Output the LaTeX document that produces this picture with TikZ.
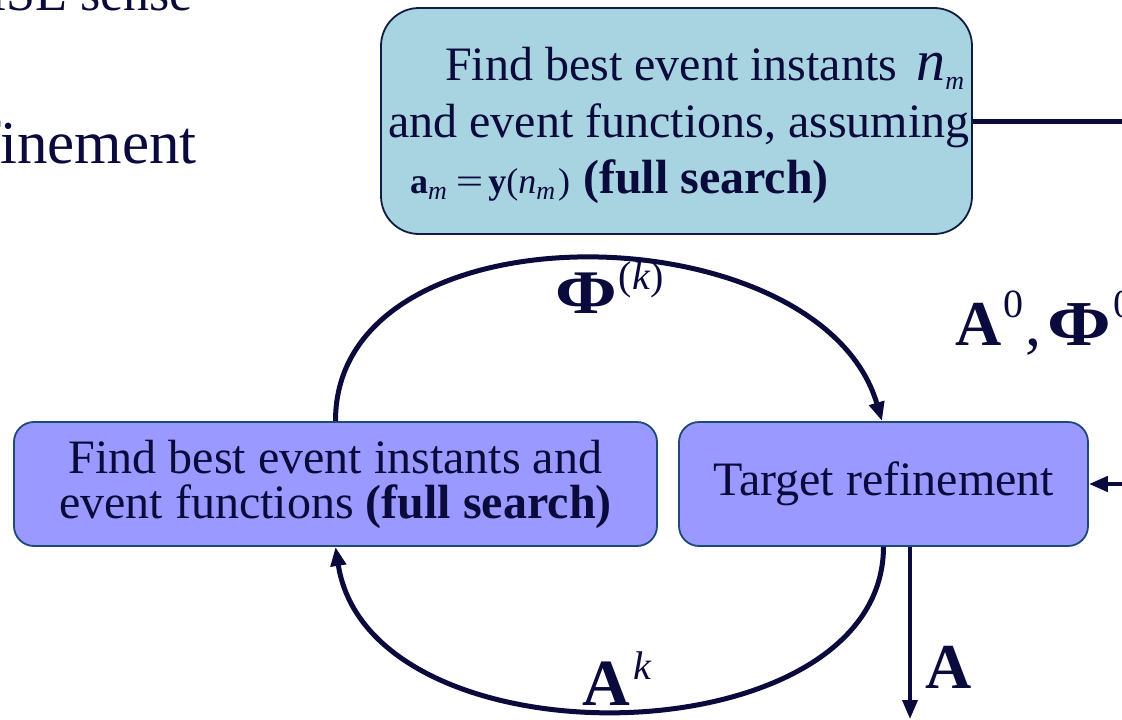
\documentclass[tikz,border=0pt]{standalone}
\usepackage{fontspec}
\setmainfont{Liberation Serif}
\usetikzlibrary{arrows.meta}

\definecolor{ink}{HTML}{0A0A3C}
\definecolor{topfill}{HTML}{A8D3E0}
\definecolor{boxfill}{HTML}{9999FF}
\definecolor{boxline}{HTML}{1F4A78}
\definecolor{topline}{HTML}{101C44}

\newcommand{\fs}[1]{\fontsize{#1}{#1}\selectfont}
\newcommand{\supr}[2]{\raisebox{#1}{\fs{40}#2}}
\newcommand{\sub}[2]{\raisebox{#1}{\fs{26}\textit{#2}}}
\newcommand{\bPhi}{\scalebox{1.2}[1]{\textbf{Φ}}}

\tikzset{
  stagebox/.style={draw=boxline, line width=1.8pt, fill=boxfill, rounded corners=20pt,
    inner sep=0pt, text=ink, align=center},
  topbox/.style={draw=topline, line width=1.8pt, fill=topfill, rounded corners=38pt,
    inner sep=0pt},
  txt/.style={text=ink, inner sep=0pt},
  flow/.style={draw=ink, line width=5pt},
  tip/.style={-{Triangle[length=19pt,width=15pt]}},
}

\begin{document}
\begin{tikzpicture}[x=1pt,y=-1pt]
\clip (0,0) rectangle (1122,720);
\fill[white] (0,0) rectangle (1122,720);

% slide text running in from the left
\node[txt, anchor=base east, font=\fs{52}] (sense) at (193,10) {MMSE sense};
\node[txt, anchor=base east, font=\fs{61}] (refine) at (197,163) {refinement};

% initial full search block
\node[topbox, minimum width=591pt, minimum height=226pt] (top) at (676.5,121) {};
\node[txt, anchor=base west, font=\fs{48}] (l1) at (445,80)
  {Find best event instants\hspace{0.4em}{\fs{58}\textit{n}}\sub{-9pt}{m}};
\node[txt, anchor=base west, font=\fs{48}] (l2) at (388,137)
  {and event functions, assuming};
\node[txt, anchor=base west] (l3) at (410,193)
  {{\fs{36}\textbf{a}\sub{-6pt}{m}\hspace{9pt}\scalebox{1.35}[1]{=}\hspace{5pt}\textbf{y}(\textit{n}\sub{-6pt}{m}\hspace{3pt})}\hspace{13pt}{\fs{48}\textbf{(full search)}}};

% iteration blocks
\node[stagebox, minimum width=643pt, minimum height=124pt,
  font=\fontsize{48}{45}\selectfont] (fb) at (335.5,484)
  {Find best event instants and\\event functions \textbf{(full search)}};
\node[stagebox, minimum width=409pt, minimum height=124pt, font=\fs{48}] (tr) at (883.5,484)
  {Target refinement};

% connections
\coordinate (exitR) at (1130,121);
\coordinate (entR) at (1130,484);
\coordinate (outA) at (910,719);

\draw[flow] (top.east) -- (exitR);
\draw[flow, line width=4.5pt, tip] (entR) -- (tr.east);

\draw[flow, tip] (fb.north) .. controls (335,200) and (820,210) .. ([xshift=-1.5pt]tr.north);
\draw[flow, tip] (tr.south) .. controls (883,760) and (370,770) .. (fb.south);
\draw[flow, line width=3.5pt, tip] ([xshift=26.5pt]tr.south) -- (outA);

% labels
\node[txt, anchor=base west, font=\fs{62}] (phik) at (555,313)
  {\bPhi\hspace{2pt}\supr{24pt}{(\textit{k})}};
\node[txt, anchor=base west, font=\fs{64}] (a0) at (955,345)
  {\textbf{A}\hspace{2pt}\supr{28pt}{0}\hspace{2pt},\hspace{6pt}\bPhi\hspace{2pt}\supr{28pt}{0}};
\node[txt, anchor=base west, font=\fs{66}] (ak) at (582,705)
  {\textbf{A}\hspace{4pt}\supr{26pt}{\textit{k}}};
\node[txt, anchor=base west, font=\fs{64}] (afin) at (925,688) {\textbf{A}};
\end{tikzpicture}
\end{document}
